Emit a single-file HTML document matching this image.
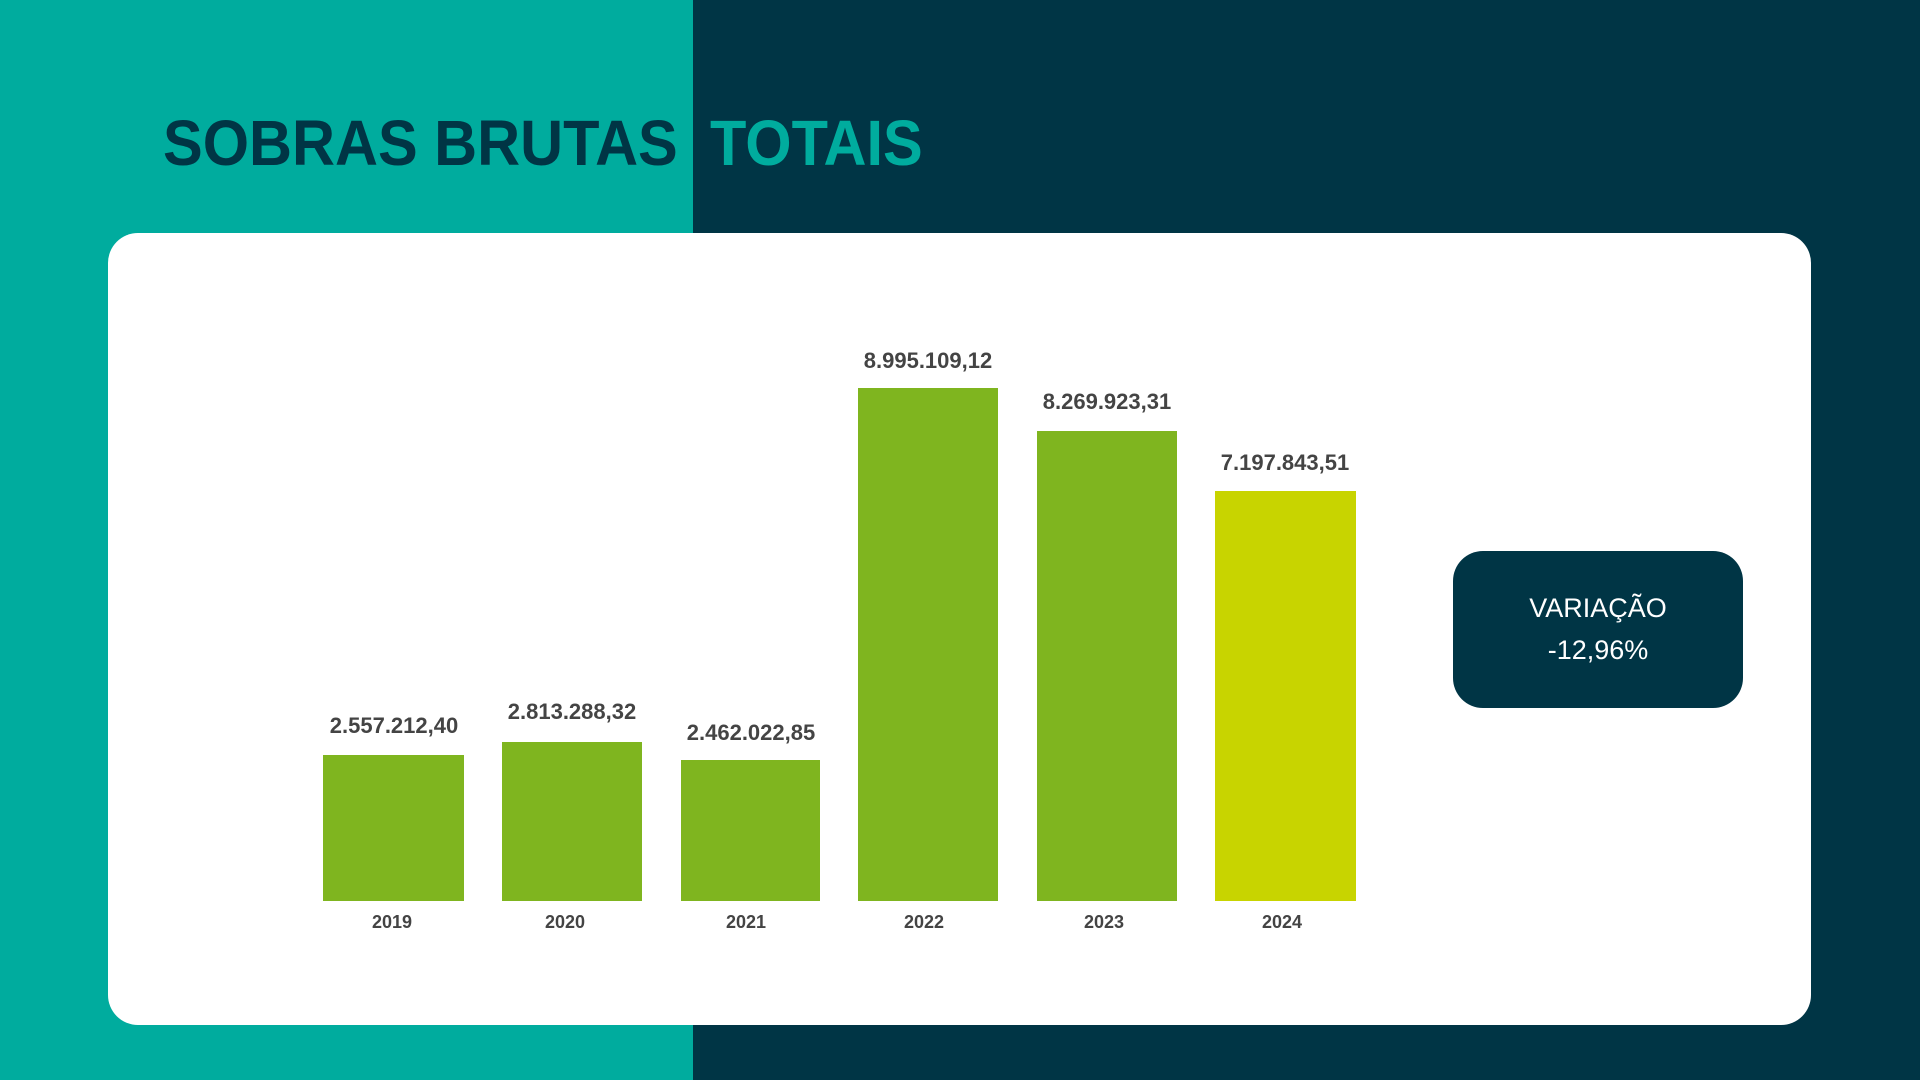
<!DOCTYPE html>
<html><head><meta charset="utf-8"><style>
*{margin:0;padding:0;box-sizing:border-box}
body{width:1920px;height:1080px;position:relative;overflow:hidden;background:#003545;font-family:"Liberation Sans",sans-serif}
.left{position:absolute;left:0;top:0;width:693px;height:1080px;background:#00ac9e}
.title{position:absolute;top:108px;font-weight:bold;font-size:64px;line-height:70px;transform:scaleX(0.93);transform-origin:left center;white-space:nowrap}
.card{position:absolute;left:108px;top:233px;width:1703px;height:792px;background:#fff;border-radius:30px}
.bar{position:absolute;background:#7fb51f}
.val{position:absolute;width:240px;text-align:center;font-weight:bold;font-size:22px;color:#444;font-family:"Liberation Sans Narrow","Liberation Sans",sans-serif}
.yr{position:absolute;width:160px;text-align:center;font-weight:bold;font-size:18px;color:#444;top:912px}
.box{position:absolute;left:1453px;top:551px;width:290px;height:157px;background:#003545;border-radius:30px;color:#fff;text-align:center;font-size:27px;line-height:42px;padding-top:36px}
</style></head><body>
<div class="left"></div>
<div class="title" style="left:163px;color:#003545">SOBRAS BRUTAS</div>
<div class="title" style="left:710px;color:#00ac9e">TOTAIS</div>
<div class="card"></div>

<div class="bar" style="left:323px;width:141px;top:755px;height:146px"></div>
<div class="bar" style="left:502px;width:140px;top:742px;height:159px"></div>
<div class="bar" style="left:681px;width:139px;top:760px;height:141px"></div>
<div class="bar" style="left:858px;width:140px;top:388px;height:513px"></div>
<div class="bar" style="left:1037px;width:140px;top:431px;height:470px"></div>
<div class="bar" style="left:1215px;width:141px;top:491px;height:410px;background:#c8d400"></div>

<div class="val" style="left:274px;top:713px">2.557.212,40</div>
<div class="val" style="left:452px;top:699px">2.813.288,32</div>
<div class="val" style="left:631px;top:720px">2.462.022,85</div>
<div class="val" style="left:808px;top:348px">8.995.109,12</div>
<div class="val" style="left:987px;top:389px">8.269.923,31</div>
<div class="val" style="left:1165px;top:450px">7.197.843,51</div>

<div class="yr" style="left:312px">2019</div>
<div class="yr" style="left:485px">2020</div>
<div class="yr" style="left:666px">2021</div>
<div class="yr" style="left:844px">2022</div>
<div class="yr" style="left:1024px">2023</div>
<div class="yr" style="left:1202px">2024</div>

<div class="box">VARIAÇÃO<br>-12,96%</div>
</body></html>
